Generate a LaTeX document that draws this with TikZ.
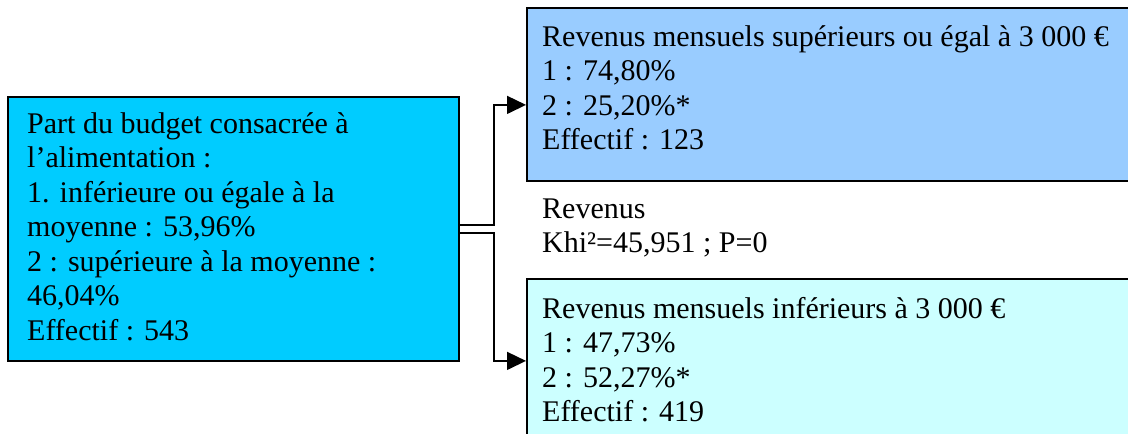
\documentclass[tikz,border=0pt]{standalone}
\usepackage{fontspec}
\setmainfont{Liberation Serif}
\usetikzlibrary{arrows.meta}
\definecolor{cleft}{HTML}{00CCFF}
\definecolor{ctop}{HTML}{99CCFF}
\definecolor{cbot}{HTML}{CCFFFF}
\begin{document}
\begin{tikzpicture}[x=1pt,y=-1pt,
  box/.style={draw=black,line width=1.8pt,anchor=north west,inner sep=0pt},
  txt/.style={anchor=north west,inner sep=0pt,align=left,font=\fontsize{30}{34.5}\selectfont},
  conn/.style={line width=1.5pt,-{Triangle[length=19pt,width=18pt]}}]
\useasboundingbox (0,0) rectangle (1128,434);
\node[box,fill=cleft,minimum width=451pt,minimum height=264pt] (L) at (7,96) {};
\node[box,fill=ctop,minimum width=620pt,minimum height=173pt] (T) at (526,7) {};
\node[box,fill=cbot,minimum width=620pt,minimum height=164pt] (B) at (526,278) {};
\node[txt] (Lt) at (27,109) {\rule{0pt}{24pt}Part du budget consacrée à\\l’alimentation :\\1. inférieure ou égale à la\\moyenne : 53,96\%\\2 : supérieure à la moyenne :\\46,04\%\\Effectif : 543};
\node[txt] (Tt) at (542,22) {\rule{0pt}{24pt}Revenus mensuels supérieurs ou égal à 3 000 €\\1 : 74,80\%\\2 : 25,20\%*\\Effectif : 123};
\node[txt] (Mt) at (542,194) {\rule{0pt}{24pt}Revenus\\Khi²=45,951 ; P=0};
\node[txt] (Bt) at (542,294) {\rule{0pt}{24pt}Revenus mensuels inférieurs à 3 000 €\\1 : 47,73\%\\2 : 52,27\%*\\Effectif : 419};
\draw[conn] ([yshift=4pt]L.east) -- ++(34,0) |- ([yshift=-10.5pt]T.west);
\draw[conn] ([yshift=-4pt]L.east) -- ++(34,0) |- (B.west);
\end{tikzpicture}
\end{document}
